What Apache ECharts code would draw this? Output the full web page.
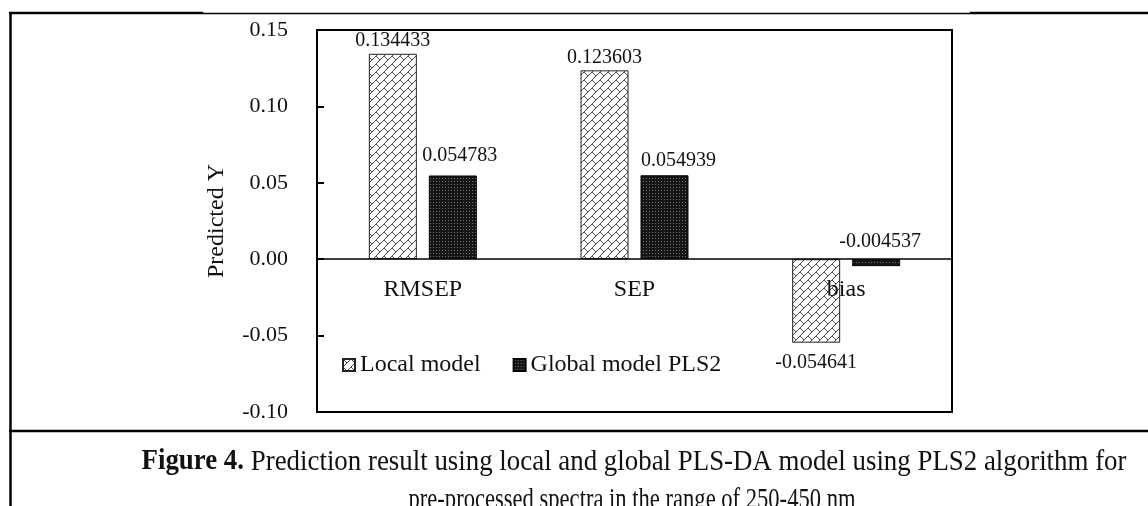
<!DOCTYPE html>
<html><head><meta charset="utf-8">
<script src="https://cdn.jsdelivr.net/npm/echarts@6/dist/echarts.min.js"></script>
<style>html,body{margin:0;padding:0;background:#fff}#c{width:1148px;height:506px}</style>
</head><body><div id="c"></div>
<script>
// ---- data ----
const categories = ['RMSEP', 'SEP', 'bias'];
const seriesNames = ['Local model', 'Global model PLS2'];
const localValues = [0.134433, 0.123603, -0.054641];
const globalValues = [0.054783, 0.054939, -0.004537];
const yMin = -0.10, yMax = 0.15, yInterval = 0.05;
const yTitle = 'Predicted Y';
const captionBold = 'Figure 4.';
const captionLine1 = ' Prediction result using local and global PLS-DA model using PLS2 algorithm for';
const captionLine2 = 'pre-processed spectra in the range of 250-450 nm';

// ---- label layout (placement only) ----
const localLabelLayout = [
  {position: 'top', offset: [0, 0]},
  {position: 'top', offset: [0, 0]},
  {position: 'bottom', offset: [0, 7]}
];
const globalLabelLayout = [
  {position: 'top', offset: [7, -7]},
  {position: 'top', offset: [14, -2]},
  {position: 'top', offset: [4, -4]}
];

const FONT = '"Liberation Serif", "Times New Roman", serif';

function localPattern() {
  const c = document.createElement('canvas'); c.width = 8; c.height = 8;
  const g = c.getContext('2d');
  g.fillStyle = '#fff'; g.fillRect(0, 0, 8, 8);
  g.strokeStyle = '#4a4a4a'; g.lineWidth = 1;
  g.beginPath();
  g.moveTo(-1, 9); g.lineTo(9, -1);
  g.moveTo(-1, 1); g.lineTo(1, -1);
  g.moveTo(7, 9); g.lineTo(9, 7);
  g.moveTo(0, 0); g.lineTo(4, 4);
  g.stroke();
  return c;
}
function globalPattern() {
  const c = document.createElement('canvas'); c.width = 3; c.height = 3;
  const g = c.getContext('2d');
  g.fillStyle = '#161616'; g.fillRect(0, 0, 3, 3);
  g.fillStyle = '#707070'; g.fillRect(1, 1, 1, 1);
  return c;
}

function measure(text, font) {
  const c = document.createElement('canvas').getContext('2d');
  c.font = font; return c.measureText(text).width;
}
const capSize = 29;
const w1 = measure(captionBold, 'bold ' + capSize + 'px "Liberation Serif"') + measure(captionLine1, capSize + 'px "Liberation Serif"');
const w2 = measure(captionLine2, capSize + 'px "Liberation Serif"');
const s1 = 985 / w1, s2 = 447 / w2;

const chart = echarts.init(document.getElementById('c'), null, {renderer: 'canvas'});

const labelBase = {show: true, fontFamily: FONT, fontSize: 20, color: '#111', distance: 3,
  formatter: p => String(p.value)};

chart.setOption({
  backgroundColor: '#fff',
  animation: false,
  textStyle: {fontFamily: FONT, color: '#111'},
  grid: {left: 317, right: 196, top: 30, bottom: 94, show: true, borderColor: '#000', borderWidth: 2, backgroundColor: 'transparent'},
  legend: {
    left: 337, top: 348, itemWidth: 12, itemHeight: 12, itemGap: 32,
    icon: 'rect',
    textStyle: {fontFamily: FONT, fontSize: 24, color: '#111'},
    data: seriesNames
  },
  xAxis: {
    type: 'category', data: categories, z: 5,
    axisLine: {onZero: true, lineStyle: {color: '#000', width: 1.5}},
    axisTick: {show: false},
    axisLabel: {fontFamily: FONT, fontSize: 24, color: '#111', margin: -134}
  },
  yAxis: {
    type: 'value', min: yMin, max: yMax, interval: yInterval,
    name: yTitle, nameLocation: 'middle', nameGap: 88, nameRotate: 90,
    nameTextStyle: {fontFamily: FONT, fontSize: 24, color: '#111'},
    axisLine: {show: true, lineStyle: {color: '#000', width: 2}},
    axisTick: {show: true, inside: true, length: 7, lineStyle: {color: '#000', width: 2}},
    splitLine: {show: false},
    axisLabel: {fontFamily: FONT, fontSize: 22, color: '#111', margin: 29, formatter: v => v.toFixed(2)}
  },
  series: [
    {
      name: seriesNames[0], type: 'bar', barWidth: 48, barGap: '25%', z: 3,
      itemStyle: {color: {image: localPattern(), repeat: 'repeat'}, borderColor: '#222', borderWidth: 1},
      data: localValues.map((v, i) => ({value: v, label: Object.assign({}, labelBase, localLabelLayout[i])})),
      label: labelBase
    },
    {
      name: seriesNames[1], type: 'bar', barWidth: 48, z: 3,
      itemStyle: {color: {image: globalPattern(), repeat: 'repeat'}, borderColor: '#000', borderWidth: 1},
      data: globalValues.map((v, i) => ({value: v, label: Object.assign({}, labelBase, globalLabelLayout[i])})),
      label: labelBase
    }
  ],
  graphic: [
    {type: 'line', silent: true, shape: {x1: 9, y1: 13, x2: 203, y2: 13}, style: {stroke: '#000', lineWidth: 2.5}},
    {type: 'line', silent: true, shape: {x1: 203, y1: 13.5, x2: 970, y2: 13.5}, style: {stroke: '#000', lineWidth: 1.3}},
    {type: 'line', silent: true, shape: {x1: 970, y1: 13, x2: 1148, y2: 13}, style: {stroke: '#000', lineWidth: 2.5}},
    {type: 'line', silent: true, shape: {x1: 10.5, y1: 12, x2: 10.5, y2: 506}, style: {stroke: '#000', lineWidth: 2.5}},
    {type: 'line', silent: true, shape: {x1: 9, y1: 431, x2: 1148, y2: 431}, style: {stroke: '#000', lineWidth: 2.5}},
    {type: 'text', silent: true, x: 634, y: 462, scaleX: s1,
      style: {text: '{b|' + captionBold + '}' + captionLine1, fontFamily: '"Liberation Serif"', fontSize: capSize, fill: '#111',
        align: 'center', verticalAlign: 'middle',
        rich: {b: {fontWeight: 'bold', fontFamily: '"Liberation Serif"', fontSize: capSize, fill: '#111'}}}},
    {type: 'text', silent: true, x: 632, y: 500, scaleX: s2,
      style: {text: captionLine2, fontFamily: '"Liberation Serif"', fontSize: capSize, fill: '#111',
        align: 'center', verticalAlign: 'middle'}}
  ]
});
</script>
</body></html>
